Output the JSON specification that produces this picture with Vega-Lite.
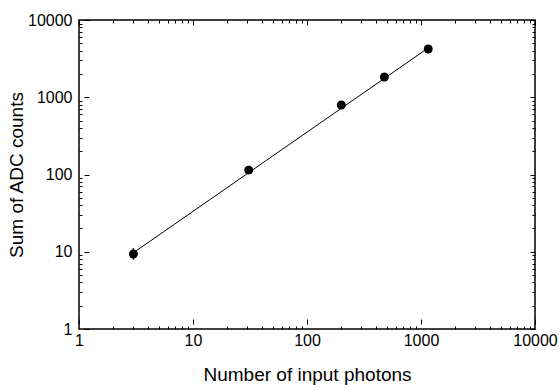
{
  "$schema": "https://vega.github.io/schema/vega-lite/v6.json",
  "width": 456,
  "height": 309,
  "autosize": {"type": "none"},
  "padding": {"left": 79, "top": 20, "right": 25, "bottom": 56},
  "background": "white",
  "config": {
    "view": {"stroke": "black", "strokeWidth": 1.5},
    "axis": {
      "grid": false,
      "domain": false,
      "labelFont": "Liberation Sans",
      "labelFontSize": 16,
      "labelColor": "black",
      "titleFont": "Liberation Sans",
      "titleFontSize": 19,
      "titleFontWeight": "normal",
      "titleColor": "black",
      "tickColor": "black",
      "tickWidth": 1,
      "labelFlush": false,
      "labelOverlap": false
    }
  },
  "datasets": {
    "points": [
      {"photons": 3, "adc": 9.35, "lo": 7.9, "hi": 11.1},
      {"photons": 30.8, "adc": 114},
      {"photons": 200, "adc": 794},
      {"photons": 477, "adc": 1829},
      {"photons": 1157, "adc": 4214}
    ],
    "fit": [
      {"photons": 3, "adc": 9.7},
      {"photons": 1157, "adc": 4350}
    ]
  },
  "resolve": {"axis": {"x": "independent", "y": "independent"}},
  "layer": [
    {
      "data": {"name": "fit"},
      "mark": {"type": "line", "color": "black", "strokeWidth": 1},
      "encoding": {
        "x": {"field": "photons", "type": "quantitative", "scale": {"type": "log", "domain": [1, 10000]},
              "axis": {"orient": "bottom", "values": [1, 10, 100, 1000, 10000], "ticks": false, "labelPadding": 3, "format": "d", "title": "Number of input photons", "titlePadding": 17}},
        "y": {"field": "adc", "type": "quantitative", "scale": {"type": "log", "domain": [1, 10000]},
              "axis": {"orient": "left", "values": [1, 10, 100, 1000, 10000], "ticks": false, "labelPadding": 7, "format": "d", "title": "Sum of ADC counts", "titlePadding": 1}}
      }
    },
    {
      "data": {"name": "points"},
      "transform": [{"filter": "datum.lo != null"}],
      "mark": {"type": "rule", "color": "black", "strokeWidth": 1.5},
      "encoding": {
        "x": {"field": "photons", "type": "quantitative", "scale": {"type": "log", "domain": [1, 10000]},
              "axis": {"orient": "bottom", "values": [1, 10, 100, 1000, 10000], "tickSize": -5, "offset": -5, "labels": false, "title": null}},
        "y": {"field": "lo", "type": "quantitative", "scale": {"type": "log", "domain": [1, 10000]},
              "axis": {"orient": "left", "values": [1, 10, 100, 1000, 10000], "tickSize": -5, "offset": -5, "labels": false, "title": null}},
        "y2": {"field": "hi"}
      }
    },
    {
      "data": {"name": "points"},
      "mark": {"type": "point", "shape": "circle", "filled": true, "color": "black", "opacity": 1, "size": 80},
      "encoding": {
        "x": {"field": "photons", "type": "quantitative", "scale": {"type": "log", "domain": [1, 10000]},
              "axis": {"orient": "bottom", "values": [2,3,4,5,6,7,8,9,20,30,40,50,60,70,80,90,200,300,400,500,600,700,800,900,2000,3000,4000,5000,6000,7000,8000,9000], "tickSize": 3, "offset": -3, "labels": false, "title": null}},
        "y": {"field": "adc", "type": "quantitative", "scale": {"type": "log", "domain": [1, 10000]},
              "axis": {"orient": "left", "values": [2,3,4,5,6,7,8,9,20,30,40,50,60,70,80,90,200,300,400,500,600,700,800,900,2000,3000,4000,5000,6000,7000,8000,9000], "tickSize": 3, "offset": -3, "labels": false, "title": null}}
      }
    },
    {
      "data": {"name": "points"},
      "mark": {"type": "point", "opacity": 0},
      "encoding": {
        "x": {"field": "photons", "type": "quantitative", "scale": {"type": "log", "domain": [1, 10000]},
              "axis": {"orient": "top", "values": [1, 10, 100, 1000, 10000], "tickSize": 5, "offset": -5, "labels": false, "title": null}},
        "y": {"field": "adc", "type": "quantitative", "scale": {"type": "log", "domain": [1, 10000]},
              "axis": {"orient": "right", "values": [1, 10, 100, 1000, 10000], "tickSize": 5, "offset": -5, "labels": false, "title": null}}
      }
    },
    {
      "data": {"name": "points"},
      "mark": {"type": "point", "opacity": 0},
      "encoding": {
        "x": {"field": "photons", "type": "quantitative", "scale": {"type": "log", "domain": [1, 10000]},
              "axis": {"orient": "top", "values": [2,3,4,5,6,7,8,9,20,30,40,50,60,70,80,90,200,300,400,500,600,700,800,900,2000,3000,4000,5000,6000,7000,8000,9000], "tickSize": 3, "offset": -3, "labels": false, "title": null}},
        "y": {"field": "adc", "type": "quantitative", "scale": {"type": "log", "domain": [1, 10000]},
              "axis": {"orient": "right", "values": [2,3,4,5,6,7,8,9,20,30,40,50,60,70,80,90,200,300,400,500,600,700,800,900,2000,3000,4000,5000,6000,7000,8000,9000], "tickSize": 3, "offset": -3, "labels": false, "title": null}}
      }
    }
  ]
}
